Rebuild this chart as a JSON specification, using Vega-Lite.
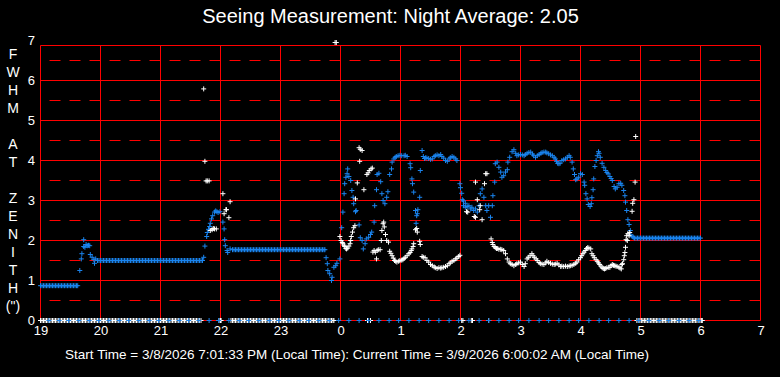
{
"$schema": "https://vega.github.io/schema/vega-lite/v6.json",
"width": 720, "height": 280,
"autosize": {"type": "none"},
"padding": {"left": 40.5, "top": 40.5, "right": 19.5, "bottom": 56.5},
"background": "#000000",
"title": {"text": "Seeing Measurement: Night Average: 2.05", "color": "#ffffff", "fontSize": 20, "font": "Liberation Sans", "fontWeight": "normal", "anchor": "middle", "offset": 8, "dx": -10},
"config": {"view": {"stroke": null}, "font": "Liberation Sans",
 "axisX": {"labelColor": "#ffffff", "labelFontSize": 13, "labelFont": "Liberation Sans", "labelPadding": 4, "labelFlush": false, "labelOverlap": false, "ticks": false, "domain": false, "grid": false,
    "titleColor": "#ffffff", "titleFont": "Liberation Sans", "titleFontSize": 13.5, "titleFontWeight": "normal", "titleX": 316, "titleY": 38, "titleAlign": "center", "titleBaseline": "alphabetic"},
 "axisY": {"labelColor": "#ffffff", "labelFontSize": 13, "labelFont": "Liberation Sans", "labelPadding": 6, "labelFlush": false, "labelOverlap": false, "ticks": false, "domain": false, "grid": false,
    "titleColor": "#ffffff", "titleFont": "Liberation Sans", "titleFontSize": 14, "titleFontWeight": "normal", "titleAngle": 0, "titleX": -28, "titleY": 18, "titleAlign": "center", "titleBaseline": "alphabetic", "titleLineHeight": 18}
},
"datasets": {
"hdash": [{"v":0.5},{"v":1.5},{"v":2.5},{"v":3.5},{"v":4.5},{"v":5.5},{"v":6.5}],
"hsolid": [{"v":0},{"v":1},{"v":2},{"v":3},{"v":4},{"v":5},{"v":6},{"v":6.875}],
"vsolid": [{"t":19},{"t":20},{"t":21},{"t":22},{"t":23},{"t":24},{"t":25},{"t":26},{"t":27},{"t":28},{"t":29},{"t":30},{"t":31}],
"white": [
{"t":19.0,"v":0},{"t":19.025,"v":0},{"t":19.05,"v":0},{"t":19.075,"v":0},{"t":19.1,"v":0},{"t":19.125,"v":0},{"t":19.15,"v":0},{"t":19.175,"v":0},{"t":19.2,"v":0},{"t":19.225,"v":0},{"t":19.25,"v":0},{"t":19.275,"v":0},{"t":19.3,"v":0},{"t":19.325,"v":0},{"t":19.35,"v":0},{"t":19.375,"v":0},{"t":19.4,"v":0},{"t":19.425,"v":0},{"t":19.45,"v":0},{"t":19.475,"v":0},{"t":19.5,"v":0},{"t":19.525,"v":0},{"t":19.55,"v":0},{"t":19.575,"v":0},{"t":19.6,"v":0},{"t":19.625,"v":0},{"t":19.65,"v":0},{"t":19.675,"v":0},{"t":19.7,"v":0},{"t":19.725,"v":0},{"t":19.75,"v":0},{"t":19.775,"v":0},{"t":19.8,"v":0},{"t":19.825,"v":0},{"t":19.85,"v":0},{"t":19.875,"v":0},{"t":19.9,"v":0},{"t":19.925,"v":0},{"t":19.95,"v":0},{"t":19.975,"v":0},
{"t":20.0,"v":0},{"t":20.025,"v":0},{"t":20.05,"v":0},{"t":20.075,"v":0},{"t":20.1,"v":0},{"t":20.125,"v":0},{"t":20.15,"v":0},{"t":20.175,"v":0},{"t":20.2,"v":0},{"t":20.225,"v":0},{"t":20.25,"v":0},{"t":20.275,"v":0},{"t":20.3,"v":0},{"t":20.325,"v":0},{"t":20.35,"v":0},{"t":20.375,"v":0},{"t":20.4,"v":0},{"t":20.425,"v":0},{"t":20.45,"v":0},{"t":20.475,"v":0},{"t":20.5,"v":0},{"t":20.525,"v":0},{"t":20.55,"v":0},{"t":20.575,"v":0},{"t":20.6,"v":0},{"t":20.625,"v":0},{"t":20.65,"v":0},{"t":20.675,"v":0},{"t":20.7,"v":0},{"t":20.725,"v":0},{"t":20.75,"v":0},{"t":20.775,"v":0},{"t":20.8,"v":0},{"t":20.825,"v":0},{"t":20.85,"v":0},{"t":20.875,"v":0},{"t":20.9,"v":0},{"t":20.925,"v":0},{"t":20.95,"v":0},{"t":20.975,"v":0},
{"t":21.0,"v":0},{"t":21.025,"v":0},{"t":21.05,"v":0},{"t":21.075,"v":0},{"t":21.1,"v":0},{"t":21.125,"v":0},{"t":21.15,"v":0},{"t":21.175,"v":0},{"t":21.2,"v":0},{"t":21.225,"v":0},{"t":21.25,"v":0},{"t":21.275,"v":0},{"t":21.3,"v":0},{"t":21.325,"v":0},{"t":21.35,"v":0},{"t":21.375,"v":0},{"t":21.4,"v":0},{"t":21.425,"v":0},{"t":21.45,"v":0},{"t":21.475,"v":0},{"t":21.5,"v":0},{"t":21.525,"v":0},{"t":21.55,"v":0},{"t":21.575,"v":0},{"t":21.6,"v":0},{"t":21.625,"v":0},{"t":21.65,"v":0},{"t":21.675,"v":0},
{"t":21.975,"v":0},{"t":22.0,"v":0},{"t":22.01,"v":0},
{"t":22.175,"v":0},{"t":22.2,"v":0},{"t":22.225,"v":0},{"t":22.25,"v":0},{"t":22.275,"v":0},{"t":22.3,"v":0},{"t":22.325,"v":0},{"t":22.35,"v":0},{"t":22.375,"v":0},{"t":22.4,"v":0},{"t":22.425,"v":0},{"t":22.45,"v":0},{"t":22.475,"v":0},{"t":22.5,"v":0},{"t":22.525,"v":0},{"t":22.55,"v":0},{"t":22.575,"v":0},{"t":22.6,"v":0},{"t":22.625,"v":0},{"t":22.65,"v":0},{"t":22.675,"v":0},{"t":22.7,"v":0},{"t":22.725,"v":0},{"t":22.75,"v":0},{"t":22.775,"v":0},{"t":22.8,"v":0},{"t":22.825,"v":0},{"t":22.85,"v":0},{"t":22.875,"v":0},{"t":22.9,"v":0},{"t":22.925,"v":0},{"t":22.95,"v":0},{"t":22.975,"v":0},
{"t":23.0,"v":0},{"t":23.025,"v":0},{"t":23.05,"v":0},{"t":23.075,"v":0},{"t":23.1,"v":0},{"t":23.125,"v":0},{"t":23.15,"v":0},{"t":23.175,"v":0},{"t":23.2,"v":0},{"t":23.225,"v":0},{"t":23.25,"v":0},{"t":23.275,"v":0},{"t":23.3,"v":0},{"t":23.325,"v":0},{"t":23.35,"v":0},{"t":23.375,"v":0},{"t":23.4,"v":0},{"t":23.425,"v":0},{"t":23.45,"v":0},{"t":23.475,"v":0},{"t":23.5,"v":0},{"t":23.525,"v":0},{"t":23.55,"v":0},{"t":23.575,"v":0},{"t":23.6,"v":0},{"t":23.625,"v":0},{"t":23.65,"v":0},{"t":23.675,"v":0},{"t":23.7,"v":0},{"t":23.725,"v":0},{"t":23.75,"v":0},{"t":23.775,"v":0},{"t":23.8,"v":0},{"t":23.825,"v":0},{"t":23.85,"v":0},{"t":23.875,"v":0},{"t":23.89,"v":0},
{"t":24.45,"v":0},{"t":24.5,"v":0},{"t":26.02,"v":0},{"t":26.04,"v":0},{"t":26.18,"v":0},{"t":26.2,"v":0},{"t":26.47,"v":0},
{"t":28.94,"v":0},{"t":28.965,"v":0},{"t":28.99,"v":0},{"t":29.015,"v":0},{"t":29.04,"v":0},{"t":29.065,"v":0},{"t":29.09,"v":0},{"t":29.115,"v":0},{"t":29.14,"v":0},{"t":29.165,"v":0},{"t":29.19,"v":0},{"t":29.215,"v":0},{"t":29.24,"v":0},{"t":29.265,"v":0},{"t":29.29,"v":0},{"t":29.315,"v":0},{"t":29.34,"v":0},{"t":29.365,"v":0},{"t":29.39,"v":0},{"t":29.415,"v":0},{"t":29.44,"v":0},{"t":29.465,"v":0},{"t":29.49,"v":0},{"t":29.515,"v":0},{"t":29.54,"v":0},{"t":29.565,"v":0},{"t":29.59,"v":0},{"t":29.615,"v":0},{"t":29.64,"v":0},{"t":29.665,"v":0},{"t":29.69,"v":0},{"t":29.715,"v":0},{"t":29.74,"v":0},{"t":29.765,"v":0},{"t":29.79,"v":0},{"t":29.815,"v":0},{"t":29.84,"v":0},{"t":29.865,"v":0},{"t":29.89,"v":0},{"t":29.915,"v":0},{"t":29.94,"v":0},{"t":29.965,"v":0},{"t":29.99,"v":0},{"t":30.015,"v":0},{"t":30.03,"v":0}
],
"bluezero": [
{"t":19.14,"v":0},{"t":19.31,"v":0},{"t":19.47,"v":0},{"t":19.64,"v":0},{"t":19.81,"v":0},{"t":19.97,"v":0},{"t":20.14,"v":0},{"t":20.31,"v":0},{"t":20.47,"v":0},{"t":20.64,"v":0},{"t":20.81,"v":0},{"t":20.97,"v":0},{"t":21.14,"v":0},{"t":21.31,"v":0},{"t":21.47,"v":0},{"t":21.64,"v":0},{"t":21.81,"v":0},{"t":21.97,"v":0},{"t":22.14,"v":0},{"t":22.31,"v":0},{"t":22.47,"v":0},{"t":22.64,"v":0},{"t":22.81,"v":0},{"t":22.97,"v":0},{"t":23.14,"v":0},{"t":23.31,"v":0},{"t":23.47,"v":0},{"t":23.64,"v":0},{"t":23.81,"v":0},{"t":23.97,"v":0},{"t":24.14,"v":0},{"t":24.31,"v":0},{"t":24.47,"v":0},{"t":24.64,"v":0},{"t":24.81,"v":0},{"t":24.97,"v":0},{"t":25.14,"v":0},{"t":25.31,"v":0},{"t":25.47,"v":0},{"t":25.64,"v":0},{"t":25.81,"v":0},{"t":25.97,"v":0},{"t":26.14,"v":0},{"t":26.31,"v":0},{"t":26.47,"v":0},{"t":26.64,"v":0},{"t":26.81,"v":0},{"t":26.97,"v":0},{"t":27.14,"v":0},{"t":27.31,"v":0},{"t":27.47,"v":0},{"t":27.64,"v":0},{"t":27.81,"v":0},{"t":27.97,"v":0},{"t":28.14,"v":0},{"t":28.31,"v":0},{"t":28.47,"v":0},{"t":28.64,"v":0},{"t":28.81,"v":0},{"t":28.97,"v":0},{"t":29.14,"v":0},{"t":29.31,"v":0},{"t":29.47,"v":0},{"t":29.64,"v":0},{"t":29.81,"v":0},{"t":29.97,"v":0}
],
"blue": [
{"t":19.0,"v":0.87},{"t":19.025,"v":0.87},{"t":19.05,"v":0.87},{"t":19.075,"v":0.87},{"t":19.1,"v":0.87},{"t":19.125,"v":0.87},{"t":19.15,"v":0.87},{"t":19.175,"v":0.87},{"t":19.2,"v":0.87},{"t":19.225,"v":0.87},{"t":19.25,"v":0.87},{"t":19.275,"v":0.87},{"t":19.3,"v":0.87},{"t":19.325,"v":0.87},{"t":19.35,"v":0.87},{"t":19.375,"v":0.87},{"t":19.4,"v":0.87},{"t":19.425,"v":0.87},{"t":19.45,"v":0.87},{"t":19.475,"v":0.87},{"t":19.5,"v":0.87},{"t":19.525,"v":0.87},{"t":19.55,"v":0.87},{"t":19.575,"v":0.87},{"t":19.6,"v":0.87},{"t":19.62,"v":0.87},
{"t":19.655,"v":1.25},{"t":19.68,"v":1.54},{"t":19.69,"v":1.67},{"t":19.72,"v":2.02},{"t":19.72,"v":1.85},{"t":19.74,"v":1.83},{"t":19.76,"v":1.9},{"t":19.78,"v":1.87},{"t":19.8,"v":1.88},{"t":19.82,"v":1.87},{"t":19.83,"v":1.65},{"t":19.86,"v":1.58},{"t":19.89,"v":1.52},{"t":19.9,"v":1.43},{"t":19.92,"v":1.54},
{"t":19.95,"v":1.5},{"t":19.975,"v":1.5},
{"t":20.0,"v":1.5},{"t":20.025,"v":1.5},{"t":20.05,"v":1.5},{"t":20.075,"v":1.5},{"t":20.1,"v":1.5},{"t":20.125,"v":1.5},{"t":20.15,"v":1.5},{"t":20.175,"v":1.5},{"t":20.2,"v":1.5},{"t":20.225,"v":1.5},{"t":20.25,"v":1.5},{"t":20.275,"v":1.5},{"t":20.3,"v":1.5},{"t":20.325,"v":1.5},{"t":20.35,"v":1.5},{"t":20.375,"v":1.5},{"t":20.4,"v":1.5},{"t":20.425,"v":1.5},{"t":20.45,"v":1.5},{"t":20.475,"v":1.5},{"t":20.5,"v":1.5},{"t":20.525,"v":1.5},{"t":20.55,"v":1.5},{"t":20.575,"v":1.5},{"t":20.6,"v":1.5},{"t":20.625,"v":1.5},{"t":20.65,"v":1.5},{"t":20.675,"v":1.5},{"t":20.7,"v":1.5},{"t":20.725,"v":1.5},{"t":20.75,"v":1.5},{"t":20.775,"v":1.5},{"t":20.8,"v":1.5},{"t":20.825,"v":1.5},{"t":20.85,"v":1.5},{"t":20.875,"v":1.5},{"t":20.9,"v":1.5},{"t":20.925,"v":1.5},{"t":20.95,"v":1.5},{"t":20.975,"v":1.5},
{"t":21.0,"v":1.5},{"t":21.025,"v":1.5},{"t":21.05,"v":1.5},{"t":21.075,"v":1.5},{"t":21.1,"v":1.5},{"t":21.125,"v":1.5},{"t":21.15,"v":1.5},{"t":21.175,"v":1.5},{"t":21.2,"v":1.5},{"t":21.225,"v":1.5},{"t":21.25,"v":1.5},{"t":21.275,"v":1.5},{"t":21.3,"v":1.5},{"t":21.325,"v":1.5},{"t":21.35,"v":1.5},{"t":21.375,"v":1.5},{"t":21.4,"v":1.5},{"t":21.425,"v":1.5},{"t":21.45,"v":1.5},{"t":21.475,"v":1.5},{"t":21.5,"v":1.5},{"t":21.525,"v":1.5},{"t":21.55,"v":1.5},{"t":21.575,"v":1.5},{"t":21.6,"v":1.5},{"t":21.625,"v":1.5},{"t":21.65,"v":1.5},{"t":21.675,"v":1.5},{"t":21.7,"v":1.5},
{"t":21.72,"v":1.58},{"t":21.74,"v":1.86},{"t":21.77,"v":2.1},{"t":21.78,"v":2.2},{"t":21.8,"v":2.28},{"t":21.82,"v":2.35},{"t":21.83,"v":2.43},{"t":21.85,"v":2.54},{"t":21.87,"v":2.62},{"t":21.9,"v":2.71},{"t":21.92,"v":2.74},{"t":21.94,"v":2.72},{"t":21.96,"v":2.7},{"t":21.99,"v":2.72},{"t":22.04,"v":2.46},{"t":22.06,"v":2.29},{"t":22.07,"v":2.02},{"t":22.08,"v":1.87},{"t":22.11,"v":1.75},{"t":22.12,"v":1.7},{"t":22.16,"v":1.79},
{"t":22.2,"v":1.77},{"t":22.225,"v":1.77},{"t":22.25,"v":1.77},{"t":22.275,"v":1.77},{"t":22.3,"v":1.77},{"t":22.325,"v":1.77},{"t":22.35,"v":1.77},{"t":22.375,"v":1.77},{"t":22.4,"v":1.77},{"t":22.425,"v":1.77},{"t":22.45,"v":1.77},{"t":22.475,"v":1.77},{"t":22.5,"v":1.77},{"t":22.525,"v":1.77},{"t":22.55,"v":1.77},{"t":22.575,"v":1.77},{"t":22.6,"v":1.77},{"t":22.625,"v":1.77},{"t":22.65,"v":1.77},{"t":22.675,"v":1.77},{"t":22.7,"v":1.77},{"t":22.725,"v":1.77},{"t":22.75,"v":1.77},{"t":22.775,"v":1.77},{"t":22.8,"v":1.77},{"t":22.825,"v":1.77},{"t":22.85,"v":1.77},{"t":22.875,"v":1.77},{"t":22.9,"v":1.77},{"t":22.925,"v":1.77},{"t":22.95,"v":1.77},{"t":22.975,"v":1.77},
{"t":23.0,"v":1.77},{"t":23.025,"v":1.77},{"t":23.05,"v":1.77},{"t":23.075,"v":1.77},{"t":23.1,"v":1.77},{"t":23.125,"v":1.77},{"t":23.15,"v":1.77},{"t":23.175,"v":1.77},{"t":23.2,"v":1.77},{"t":23.225,"v":1.77},{"t":23.25,"v":1.77},{"t":23.275,"v":1.77},{"t":23.3,"v":1.77},{"t":23.325,"v":1.77},{"t":23.35,"v":1.77},{"t":23.375,"v":1.77},{"t":23.4,"v":1.77},{"t":23.425,"v":1.77},{"t":23.45,"v":1.77},{"t":23.475,"v":1.77},{"t":23.5,"v":1.77},{"t":23.525,"v":1.77},{"t":23.55,"v":1.77},{"t":23.575,"v":1.77},{"t":23.6,"v":1.77},{"t":23.625,"v":1.77},{"t":23.65,"v":1.77},{"t":23.675,"v":1.77},{"t":23.7,"v":1.77},{"t":23.725,"v":1.77},{"t":23.74,"v":1.77},
{"t":23.76,"v":1.57},{"t":23.78,"v":1.42},{"t":23.79,"v":1.25},{"t":23.82,"v":1.17},{"t":23.85,"v":1.0},{"t":23.86,"v":1.08},{"t":23.89,"v":1.33},{"t":23.92,"v":1.37},{"t":23.94,"v":1.43},{"t":23.99,"v":1.54},
{"t":24.02,"v":2.32},{"t":24.04,"v":2.71},{"t":24.06,"v":3.17},{"t":24.07,"v":3.42},{"t":24.09,"v":3.58},{"t":24.11,"v":3.67},{"t":24.12,"v":3.79},{"t":24.14,"v":3.6},{"t":24.17,"v":3.5},{"t":24.19,"v":3.25},{"t":24.21,"v":3.08},{"t":24.22,"v":2.92},{"t":24.25,"v":2.72},{"t":24.26,"v":2.75},{"t":24.31,"v":2.39},{"t":24.33,"v":2.07},{"t":24.36,"v":2.0},{"t":24.38,"v":1.79},{"t":24.41,"v":1.92},{"t":24.43,"v":2.04},{"t":24.47,"v":2.08},{"t":24.5,"v":2.15},{"t":24.52,"v":2.21},{"t":24.56,"v":2.46},{"t":24.57,"v":2.87},{"t":24.6,"v":3.27},{"t":24.61,"v":3.65},{"t":24.64,"v":3.68},{"t":24.67,"v":3.47},{"t":24.69,"v":3.17},{"t":24.71,"v":3.0},{"t":24.74,"v":2.92},{"t":24.77,"v":3.08},{"t":24.79,"v":3.22},{"t":24.82,"v":3.65},{"t":24.85,"v":3.79},{"t":24.86,"v":3.96},{"t":24.89,"v":4.04},{"t":24.91,"v":4.08},{"t":24.93,"v":4.1},{"t":24.96,"v":4.12},{"t":24.99,"v":4.13},{"t":25.02,"v":4.12},{"t":25.06,"v":4.12},{"t":25.08,"v":4.13},{"t":25.11,"v":4.1},
{"t":25.16,"v":3.92},{"t":25.17,"v":3.82},{"t":25.19,"v":3.54},{"t":25.2,"v":3.42},{"t":25.22,"v":3.21},{"t":25.25,"v":2.75},{"t":25.26,"v":2.43},{"t":25.27,"v":2.62},{"t":25.28,"v":2.67},{"t":25.29,"v":2.77},{"t":25.32,"v":3.08},{"t":25.33,"v":3.75},
{"t":25.36,"v":4.25},{"t":25.38,"v":4.1},{"t":25.4,"v":4.05},{"t":25.42,"v":4.07},{"t":25.44,"v":4.06},{"t":25.47,"v":4.05},{"t":25.5,"v":4.03},{"t":25.53,"v":4.04},{"t":25.56,"v":4.1},{"t":25.58,"v":4.12},{"t":25.61,"v":4.14},{"t":25.64,"v":4.12},{"t":25.67,"v":4.15},{"t":25.69,"v":4.1},{"t":25.72,"v":4.06},{"t":25.75,"v":4.0},{"t":25.78,"v":3.98},{"t":25.81,"v":4.04},{"t":25.83,"v":4.07},{"t":25.86,"v":4.1},{"t":25.89,"v":4.08},{"t":25.92,"v":4.04},{"t":25.94,"v":4.0},
{"t":25.99,"v":3.42},{"t":26.0,"v":3.32},{"t":26.02,"v":3.18},{"t":26.03,"v":3.02},{"t":26.05,"v":2.99},{"t":26.05,"v":2.87},{"t":26.08,"v":2.93},{"t":26.08,"v":2.83},{"t":26.11,"v":2.85},{"t":26.14,"v":2.87},{"t":26.17,"v":2.79},{"t":26.19,"v":2.83},{"t":26.22,"v":2.75},{"t":26.25,"v":2.79},{"t":26.28,"v":2.71},{"t":26.31,"v":2.87},{"t":26.33,"v":3.17},{"t":26.36,"v":3.29},{"t":26.39,"v":3.08},{"t":26.42,"v":2.87},{"t":26.44,"v":2.75},{"t":26.47,"v":2.87},{"t":26.5,"v":2.58},{"t":26.53,"v":2.87},{"t":26.54,"v":3.12},{"t":26.57,"v":3.46},
{"t":26.58,"v":3.92},{"t":26.61,"v":3.96},{"t":26.64,"v":3.83},{"t":26.67,"v":3.71},{"t":26.69,"v":3.58},{"t":26.72,"v":3.62},{"t":26.75,"v":3.71},{"t":26.78,"v":3.77},{"t":26.79,"v":3.96},{"t":26.82,"v":4.08},{"t":26.86,"v":4.22},{"t":26.89,"v":4.27},{"t":26.92,"v":4.18},{"t":26.94,"v":4.12},{"t":26.97,"v":4.14},{"t":27.0,"v":4.15},{"t":27.03,"v":4.14},{"t":27.06,"v":4.12},{"t":27.08,"v":4.15},{"t":27.11,"v":4.18},{"t":27.14,"v":4.2},{"t":27.17,"v":4.21},{"t":27.2,"v":4.16},{"t":27.22,"v":4.12},{"t":27.25,"v":4.08},{"t":27.28,"v":4.12},{"t":27.31,"v":4.15},{"t":27.34,"v":4.18},{"t":27.36,"v":4.2},{"t":27.39,"v":4.21},{"t":27.42,"v":4.21},{"t":27.44,"v":4.19},{"t":27.47,"v":4.17},{"t":27.5,"v":4.14},{"t":27.53,"v":4.12},{"t":27.56,"v":4.08},{"t":27.58,"v":4.04},{"t":27.6,"v":3.98},{"t":27.62,"v":3.93},{"t":27.64,"v":3.92},{"t":27.66,"v":3.93},{"t":27.69,"v":4.0},{"t":27.72,"v":4.02},{"t":27.75,"v":4.04},{"t":27.78,"v":4.08},{"t":27.81,"v":4.12},{"t":27.83,"v":4.08},{"t":27.86,"v":3.96},{"t":27.88,"v":3.79},{"t":27.9,"v":3.65},{"t":27.92,"v":3.52},{"t":27.94,"v":3.54},{"t":27.97,"v":3.58},{"t":28.0,"v":3.67},{"t":28.03,"v":3.65},{"t":28.06,"v":3.46},{"t":28.07,"v":3.38},{"t":28.09,"v":3.17},{"t":28.11,"v":3.04},{"t":28.13,"v":2.9},{"t":28.16,"v":2.85},{"t":28.18,"v":2.92},{"t":28.19,"v":3.07},{"t":28.21,"v":3.27},{"t":28.22,"v":3.54},{"t":28.24,"v":3.85},{"t":28.26,"v":4.0},{"t":28.28,"v":4.12},{"t":28.3,"v":4.22},{"t":28.31,"v":4.18},{"t":28.33,"v":4.08},{"t":28.36,"v":3.93},{"t":28.39,"v":3.83},{"t":28.42,"v":3.75},{"t":28.44,"v":3.7},{"t":28.46,"v":3.67},{"t":28.49,"v":3.6},{"t":28.51,"v":3.55},{"t":28.53,"v":3.5},{"t":28.56,"v":3.35},{"t":28.58,"v":3.29},{"t":28.61,"v":3.33},{"t":28.64,"v":3.42},{"t":28.67,"v":3.43},{"t":28.69,"v":3.38},{"t":28.72,"v":3.25},{"t":28.74,"v":3.12},{"t":28.75,"v":2.96},{"t":28.77,"v":2.75},{"t":28.79,"v":2.52},{"t":28.81,"v":2.4},{"t":28.83,"v":2.25},{"t":28.84,"v":2.14},{"t":28.86,"v":2.1},{"t":28.88,"v":2.08},{"t":28.9,"v":2.06},
{"t":28.925,"v":2.06},{"t":28.95,"v":2.06},{"t":28.975,"v":2.06},{"t":29.0,"v":2.06},{"t":29.025,"v":2.06},{"t":29.05,"v":2.06},{"t":29.075,"v":2.06},{"t":29.1,"v":2.06},{"t":29.125,"v":2.06},{"t":29.15,"v":2.06},{"t":29.175,"v":2.06},{"t":29.2,"v":2.06},{"t":29.225,"v":2.06},{"t":29.25,"v":2.06},{"t":29.275,"v":2.06},{"t":29.3,"v":2.06},{"t":29.325,"v":2.06},{"t":29.35,"v":2.06},{"t":29.375,"v":2.06},{"t":29.4,"v":2.06},{"t":29.425,"v":2.06},{"t":29.45,"v":2.06},{"t":29.475,"v":2.06},{"t":29.5,"v":2.06},{"t":29.525,"v":2.06},{"t":29.55,"v":2.06},{"t":29.575,"v":2.06},{"t":29.6,"v":2.06},{"t":29.625,"v":2.06},{"t":29.65,"v":2.06},{"t":29.675,"v":2.06},{"t":29.7,"v":2.06},{"t":29.725,"v":2.06},{"t":29.75,"v":2.06},{"t":29.775,"v":2.06},{"t":29.8,"v":2.06},{"t":29.825,"v":2.06},{"t":29.85,"v":2.06},{"t":29.875,"v":2.06},{"t":29.9,"v":2.06},{"t":29.925,"v":2.06},{"t":29.95,"v":2.06},{"t":29.975,"v":2.06},{"t":30.0,"v":2.06}
],
"whitemain": [
{"t":21.72,"v":5.79},{"t":21.74,"v":3.98},{"t":21.76,"v":3.49},{"t":21.78,"v":3.49},{"t":21.81,"v":3.49},{"t":21.83,"v":2.25},{"t":21.86,"v":2.27},{"t":21.88,"v":2.3},{"t":21.9,"v":2.29},{"t":21.93,"v":2.29},{"t":22.04,"v":3.17},{"t":22.06,"v":2.67},{"t":22.09,"v":2.77},{"t":22.1,"v":2.77},{"t":22.14,"v":2.57},{"t":22.16,"v":2.97},
{"t":23.91,"v":6.95},{"t":23.93,"v":6.95},
{"t":23.99,"v":2.1},{"t":24.01,"v":2.0},{"t":24.03,"v":1.95},{"t":24.04,"v":1.92},{"t":24.06,"v":1.88},{"t":24.07,"v":1.85},{"t":24.09,"v":1.8},{"t":24.1,"v":1.79},{"t":24.12,"v":1.81},{"t":24.14,"v":1.86},{"t":24.16,"v":1.92},{"t":24.17,"v":2.0},{"t":24.18,"v":2.1},{"t":24.2,"v":2.21},{"t":24.22,"v":2.32},{"t":24.24,"v":2.37},{"t":24.25,"v":3.04},{"t":24.28,"v":3.44},{"t":24.31,"v":4.32},{"t":24.33,"v":4.28},{"t":24.36,"v":4.25},{"t":24.32,"v":3.98},{"t":24.39,"v":3.27},{"t":24.44,"v":3.65},{"t":24.46,"v":3.69},{"t":24.48,"v":3.75},{"t":24.51,"v":3.79},{"t":24.53,"v":3.81},{"t":24.54,"v":1.71},{"t":24.56,"v":1.75},{"t":24.58,"v":1.71},{"t":24.6,"v":1.54},{"t":24.61,"v":1.75},{"t":24.63,"v":1.77},{"t":24.66,"v":1.77},{"t":24.68,"v":2.0},{"t":24.69,"v":2.25},{"t":24.71,"v":2.42},{"t":24.72,"v":2.46},{"t":24.73,"v":2.34},{"t":24.75,"v":2.15},{"t":24.77,"v":2.0},{"t":24.8,"v":1.96},{"t":24.82,"v":1.73},{"t":24.84,"v":1.68},{"t":24.86,"v":1.62},{"t":24.88,"v":1.56},{"t":24.9,"v":1.5},{"t":24.92,"v":1.48},{"t":24.94,"v":1.46},{"t":24.97,"v":1.48},{"t":24.99,"v":1.5},{"t":25.02,"v":1.51},{"t":25.04,"v":1.52},{"t":25.06,"v":1.55},{"t":25.08,"v":1.58},{"t":25.11,"v":1.62},{"t":25.14,"v":1.67},{"t":25.16,"v":1.7},{"t":25.18,"v":1.75},{"t":25.19,"v":1.79},{"t":25.21,"v":1.85},{"t":25.22,"v":1.92},{"t":25.25,"v":2.27},{"t":25.27,"v":2.3},{"t":25.28,"v":2.21},{"t":25.32,"v":1.98},{"t":25.33,"v":1.9},{"t":25.36,"v":1.6},{"t":25.38,"v":1.58},{"t":25.41,"v":1.57},{"t":25.44,"v":1.5},{"t":25.47,"v":1.46},{"t":25.5,"v":1.4},{"t":25.53,"v":1.37},{"t":25.56,"v":1.34},{"t":25.58,"v":1.32},{"t":25.61,"v":1.3},{"t":25.64,"v":1.32},{"t":25.67,"v":1.31},{"t":25.69,"v":1.32},{"t":25.72,"v":1.33},{"t":25.75,"v":1.35},{"t":25.78,"v":1.37},{"t":25.81,"v":1.42},{"t":25.83,"v":1.44},{"t":25.86,"v":1.48},{"t":25.89,"v":1.5},{"t":25.92,"v":1.54},{"t":25.94,"v":1.56},{"t":25.97,"v":1.6},{"t":25.99,"v":1.63},
{"t":26.1,"v":2.72},{"t":26.12,"v":2.71},{"t":26.23,"v":2.6},{"t":26.25,"v":3.46},{"t":26.25,"v":2.58},{"t":26.28,"v":3.02},{"t":26.32,"v":2.77},{"t":26.33,"v":2.87},{"t":26.36,"v":2.52},{"t":26.4,"v":3.42},{"t":26.42,"v":3.67},{"t":26.44,"v":3.67},
{"t":26.51,"v":2.04},{"t":26.53,"v":1.95},{"t":26.54,"v":1.9},{"t":26.56,"v":1.85},{"t":26.58,"v":1.82},{"t":26.6,"v":1.8},{"t":26.62,"v":1.8},{"t":26.64,"v":1.78},{"t":26.67,"v":1.78},{"t":26.69,"v":1.77},{"t":26.72,"v":1.75},{"t":26.75,"v":1.67},{"t":26.78,"v":1.54},{"t":26.81,"v":1.46},{"t":26.83,"v":1.42},{"t":26.86,"v":1.4},{"t":26.89,"v":1.37},{"t":26.92,"v":1.4},{"t":26.94,"v":1.42},{"t":26.97,"v":1.44},{"t":27.0,"v":1.46},{"t":27.03,"v":1.4},{"t":27.06,"v":1.35},{"t":27.08,"v":1.42},{"t":27.11,"v":1.54},{"t":27.13,"v":1.58},{"t":27.16,"v":1.62},{"t":27.19,"v":1.67},{"t":27.21,"v":1.62},{"t":27.23,"v":1.58},{"t":27.26,"v":1.54},{"t":27.28,"v":1.5},{"t":27.31,"v":1.45},{"t":27.33,"v":1.42},{"t":27.36,"v":1.41},{"t":27.39,"v":1.4},{"t":27.42,"v":1.44},{"t":27.44,"v":1.48},{"t":27.47,"v":1.45},{"t":27.5,"v":1.43},{"t":27.53,"v":1.41},{"t":27.56,"v":1.4},{"t":27.58,"v":1.41},{"t":27.61,"v":1.43},{"t":27.64,"v":1.39},{"t":27.67,"v":1.35},{"t":27.69,"v":1.36},{"t":27.72,"v":1.35},{"t":27.75,"v":1.36},{"t":27.78,"v":1.35},{"t":27.81,"v":1.36},{"t":27.83,"v":1.37},{"t":27.86,"v":1.38},{"t":27.89,"v":1.4},{"t":27.92,"v":1.43},{"t":27.94,"v":1.46},{"t":27.97,"v":1.52},{"t":28.0,"v":1.57},{"t":28.02,"v":1.62},{"t":28.04,"v":1.67},{"t":28.06,"v":1.71},{"t":28.08,"v":1.75},{"t":28.1,"v":1.8},{"t":28.12,"v":1.82},{"t":28.14,"v":1.81},{"t":28.17,"v":1.79},{"t":28.19,"v":1.67},{"t":28.21,"v":1.62},{"t":28.23,"v":1.57},{"t":28.26,"v":1.52},{"t":28.28,"v":1.48},{"t":28.3,"v":1.44},{"t":28.32,"v":1.4},{"t":28.34,"v":1.36},{"t":28.36,"v":1.32},{"t":28.38,"v":1.3},{"t":28.4,"v":1.29},{"t":28.42,"v":1.3},{"t":28.44,"v":1.32},{"t":28.47,"v":1.33},{"t":28.49,"v":1.33},{"t":28.51,"v":1.37},{"t":28.53,"v":1.4},{"t":28.55,"v":1.38},{"t":28.57,"v":1.37},{"t":28.59,"v":1.36},{"t":28.61,"v":1.35},{"t":28.64,"v":1.33},{"t":28.66,"v":1.31},{"t":28.68,"v":1.29},{"t":28.69,"v":1.4},{"t":28.7,"v":1.42},{"t":28.72,"v":1.52},{"t":28.73,"v":1.62},{"t":28.74,"v":1.7},{"t":28.75,"v":1.83},{"t":28.76,"v":2.02},{"t":28.78,"v":2.0},{"t":28.77,"v":2.12},{"t":28.79,"v":2.17},{"t":28.81,"v":2.12},{"t":28.82,"v":2.2},{"t":28.86,"v":2.73},{"t":28.87,"v":2.93},{"t":28.89,"v":3.02},{"t":28.91,"v":3.46},{"t":28.92,"v":4.6}
]
},
"layer": [
{"data": {"name": "hdash"}, "mark": {"type": "rule", "color": "#ff0000", "strokeWidth": 1, "strokeDash": [11, 9]},
 "encoding": {"y": {"field": "v", "type": "quantitative", "scale": {"domain": [0, 7], "nice": false, "zero": false},
  "axis": {"values": [0,1,2,3,4,5,6,7], "labelOverlap": false, "labelSeparation": 0, "title": ["F","W","H","M","\u200b","A","T","\u200b","Z","E","N","I","T","H","(\")"]}}}},
{"data": {"name": "hsolid"}, "mark": {"type": "rule", "color": "#ff0000", "strokeWidth": 1},
 "encoding": {"y": {"field": "v", "type": "quantitative", "axis": {"values": [0,1,2,3,4,5,6,7], "labelOverlap": false, "labelSeparation": 0}}}},
{"data": {"name": "vsolid"}, "mark": {"type": "rule", "color": "#ff0000", "strokeWidth": 1},
 "encoding": {"x": {"field": "t", "type": "quantitative", "scale": {"domain": [19, 31], "nice": false, "zero": false},
  "axis": {"values": [19,20,21,22,23,24,25,26,27,28,29,30,31], "labelExpr": "datum.value % 24", "labelOverlap": false, "labelFlush": false,
  "title": "Start Time = 3/8/2026 7:01:33 PM (Local Time): Current Time = 3/9/2026 6:00:02 AM (Local Time)"}}, "y": {"datum": 0, "axis": {"values": [0,1,2,3,4,5,6,7], "labelOverlap": false}}, "y2": {"datum": 6.875}}},
{"data": {"name": "white"}, "mark": {"type": "point", "shape": "M-1,0H1M0,-1V1", "filled": false, "size": 25, "strokeWidth": 1, "color": "#ffffff", "opacity": 1},
 "encoding": {"x": {"field": "t", "type": "quantitative"}, "y": {"field": "v", "type": "quantitative", "axis": {"values": [0,1,2,3,4,5,6,7], "labelOverlap": false}}}},
{"data": {"name": "bluezero"}, "mark": {"type": "point", "shape": "M-1,0H1M0,-1V1", "filled": false, "size": 25, "strokeWidth": 1, "color": "#1a84ee", "opacity": 1},
 "encoding": {"x": {"field": "t", "type": "quantitative"}, "y": {"field": "v", "type": "quantitative", "axis": {"values": [0,1,2,3,4,5,6,7], "labelOverlap": false}}}},
{"data": {"name": "blue"}, "mark": {"type": "point", "shape": "M-1,0H1M0,-1V1", "filled": false, "size": 25, "strokeWidth": 1, "color": "#1a84ee", "opacity": 1},
 "encoding": {"x": {"field": "t", "type": "quantitative"}, "y": {"field": "v", "type": "quantitative", "axis": {"values": [0,1,2,3,4,5,6,7], "labelOverlap": false}}}},
{"data": {"name": "whitemain"}, "mark": {"type": "point", "shape": "M-1,0H1M0,-1V1", "filled": false, "size": 25, "strokeWidth": 1, "color": "#ffffff", "opacity": 1},
 "encoding": {"x": {"field": "t", "type": "quantitative"}, "y": {"field": "v", "type": "quantitative", "axis": {"values": [0,1,2,3,4,5,6,7], "labelOverlap": false}}}}
]
}
